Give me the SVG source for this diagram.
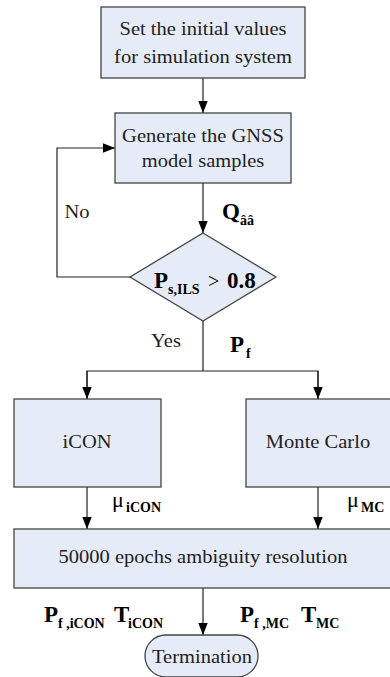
<svg xmlns="http://www.w3.org/2000/svg" width="390" height="677" viewBox="0 0 390 677" font-family="'Liberation Serif', 'Times New Roman', serif">
<defs>
<marker id="arr" markerUnits="userSpaceOnUse" markerWidth="12" markerHeight="16" refX="14" refY="5.5" orient="auto" viewBox="0 0 14 11">
<path d="M0,0 L14,5.5 L0,11 Z" fill="#000"/>
</marker>
</defs>
<style>
.box{fill:#e6ecf7;stroke:#444;stroke-width:1.3}
.ln{fill:none;stroke:#222;stroke-width:1.2}
.t{font-family:'Liberation Serif',serif;font-size:18px;fill:#222}
.m{font-family:'Liberation Serif',serif;font-weight:bold;font-size:23px;fill:#000}
.s{font-family:'Liberation Serif',serif;font-weight:bold;font-size:14px;fill:#000}
.mu{font-family:'Liberation Serif',serif;font-size:22px;fill:#000}
</style>
<g id="connectors">
<line class="ln" x1="203" y1="78" x2="203" y2="113" marker-end="url(#arr)"/>
<line class="ln" x1="203" y1="183" x2="203" y2="233" marker-end="url(#arr)"/>
<polyline class="ln" points="130,277 57,277 57,148 115,148" marker-end="url(#arr)"/>
<line class="ln" x1="203" y1="321" x2="203" y2="371"/>
<polyline class="ln" points="87,399 87,371 318,371 318,399"/>
<line class="ln" x1="87" y1="371" x2="87" y2="399" marker-end="url(#arr)"/>
<line class="ln" x1="318" y1="371" x2="318" y2="399" marker-end="url(#arr)"/>
<line class="ln" x1="87" y1="487" x2="87" y2="529" marker-end="url(#arr)"/>
<line class="ln" x1="318" y1="487" x2="318" y2="529" marker-end="url(#arr)"/>
<line class="ln" x1="203" y1="588" x2="203" y2="635" marker-end="url(#arr)"/>
<text class="t" transform="translate(77,218) scale(1.14,1)" text-anchor="middle">No</text>
<text class="t" transform="translate(166,347) scale(1.14,1)" text-anchor="middle">Yes</text>
<text class="m" x="222" y="219">Q</text><text class="s" x="240" y="225">ââ</text>
<text class="m" x="230" y="352">P</text><text class="s" x="246" y="358">f</text>
<text class="mu" x="112" y="507">μ</text><text class="s" x="126" y="512">iCON</text>
<text class="mu" x="347" y="507">μ</text><text class="s" x="361" y="512">MC</text>
<text class="m" x="44" y="622">P</text><text class="s" x="58" y="628">f ,iCON</text>
<text class="m" x="114" y="622">T</text><text class="s" x="128" y="628">iCON</text>
<text class="m" x="240" y="622">P</text><text class="s" x="254" y="628">f ,MC</text>
<text class="m" x="301" y="622">T</text><text class="s" x="316" y="628">MC</text>
</g>
<g id="start">
<rect class="box" x="101" y="7" width="204" height="71"/>
<text class="t" transform="translate(203,35) scale(1.14,1)" text-anchor="middle">Set the initial values</text>
<text class="t" transform="translate(203,63) scale(1.14,1)" text-anchor="middle">for simulation system</text>
</g>
<g id="generate">
<rect class="box" x="115" y="113" width="176" height="70"/>
<text class="t" transform="translate(203,142) scale(1.14,1)" text-anchor="middle">Generate the GNSS</text>
<text class="t" transform="translate(203,167) scale(1.14,1)" text-anchor="middle">model samples</text>
</g>
<g id="decision">
<polygon class="box" points="203,233 276,277 203,321 130,277"/>
<text class="m" x="154" y="288">P</text><text class="s" x="168" y="294">s,ILS</text>
<text class="mu" x="208" y="288" style="font-size:20px">&gt;</text>
<text class="m" x="227" y="288">0.8</text>
</g>
<g id="icon">
<rect class="box" x="14" y="399" width="147" height="88"/>
<text class="t" transform="translate(87,448) scale(1.14,1)" text-anchor="middle">iCON</text>
</g>
<g id="montecarlo">
<rect class="box" x="246" y="399" width="150" height="88"/>
<text class="t" transform="translate(318,448) scale(1.14,1)" text-anchor="middle">Monte Carlo</text>
</g>
<g id="resolution">
<rect class="box" x="14" y="529" width="382" height="59"/>
<text class="t" transform="translate(203,563) scale(1.14,1)" text-anchor="middle">50000 epochs ambiguity resolution</text>
</g>
<g id="termination">
<rect class="box" x="145" y="635" width="113" height="42" rx="21" ry="21"/>
<text class="t" transform="translate(202,663) scale(1.14,1)" text-anchor="middle">Termination</text>
</g>
</svg>
